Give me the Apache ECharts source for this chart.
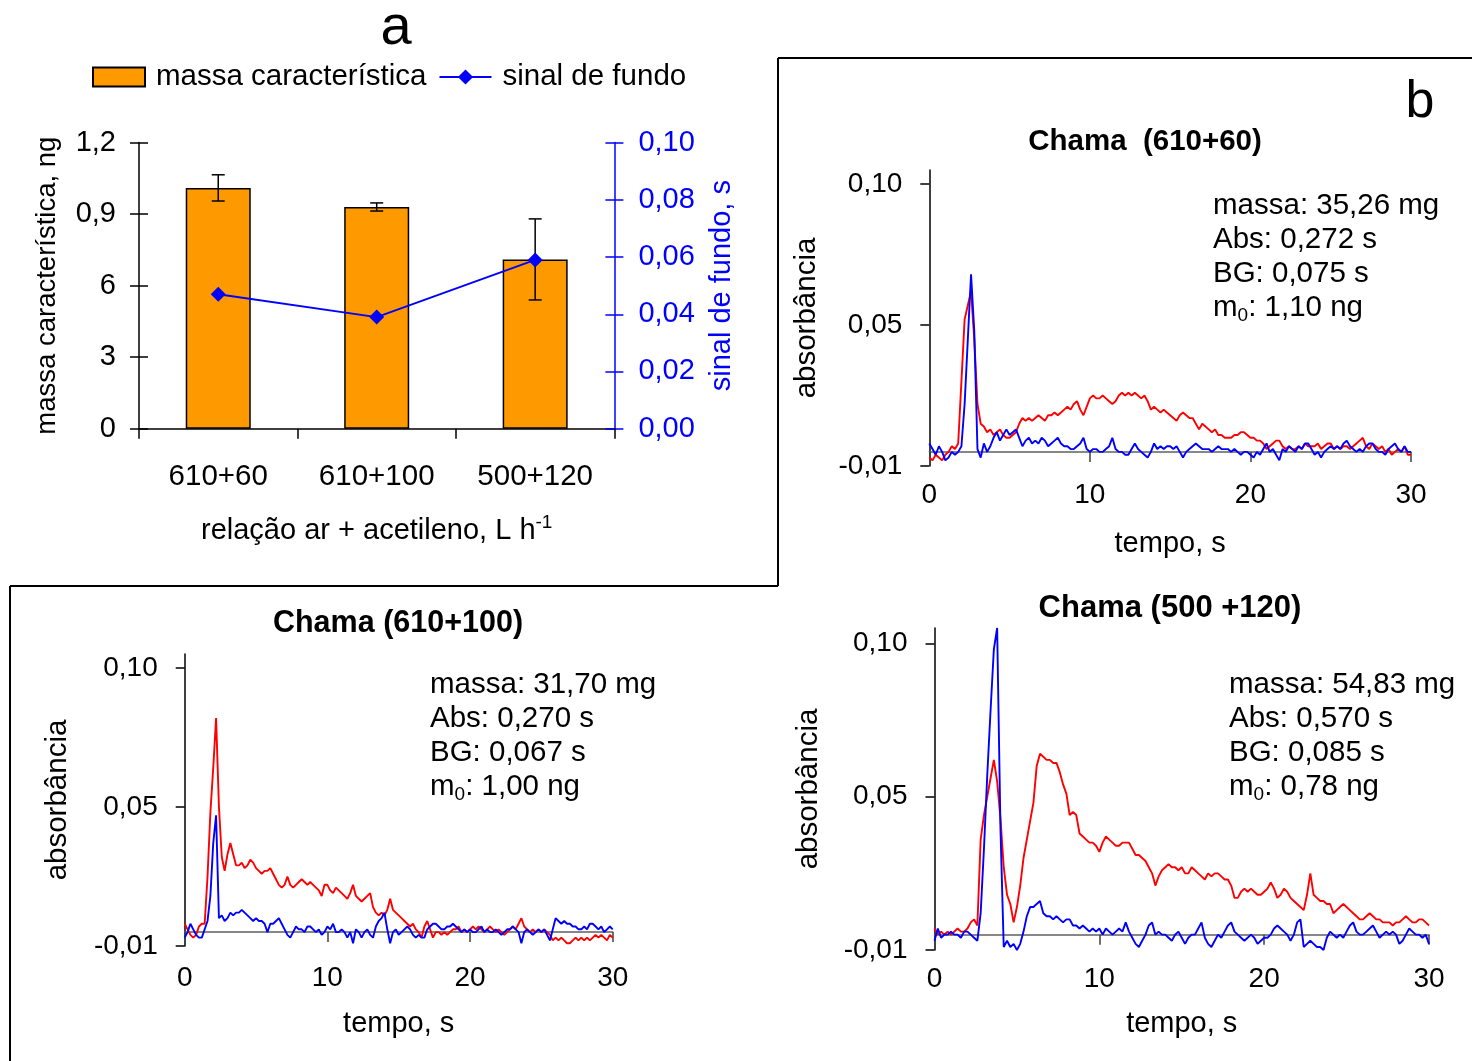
<!DOCTYPE html>
<html><head><meta charset="utf-8">
<script src="https://cdn.jsdelivr.net/npm/echarts@6/dist/echarts.min.js"></script>
<style>html,body{margin:0;padding:0;background:#fff}#c{width:1472px;height:1061px}</style>
</head><body><div id="c"></div>
<script>
const FONT = '"Liberation Sans", Arial, Helvetica, sans-serif';

// ---------- Panel a ----------
const categories = ['610+60', '610+100', '500+120'];
const massaCaracteristica = [1.01, 0.93, 0.71];      // ng
const massaErro = [0.055, 0.017, 0.17];               // ng (±)
const sinalDeFundo = [0.047, 0.039, 0.059];           // s
const leftTickLabels = ['0', '3', '6', '0,9', '1,2'];
const rightTickLabels = ['0,00', '0,02', '0,04', '0,06', '0,08', '0,10'];

// ---------- Panel b : transient signals (absorbância x 1000) ----------
const tempo = [
 0,0.2,0.4,0.6,0.8,1,1.2,1.4,1.6,1.8,
 2,2.2,2.4,2.6,2.8,3,3.2,3.4,3.6,3.8,
 4,4.2,4.4,4.6,4.8,5,5.2,5.4,5.6,5.8,
 6,6.2,6.4,6.6,6.8,7,7.2,7.4,7.6,7.8,
 8,8.2,8.4,8.6,8.8,9,9.2,9.4,9.6,9.8,
 10,10.2,10.4,10.6,10.8,11,11.2,11.4,11.6,11.8,
 12,12.2,12.4,12.6,12.8,13,13.2,13.4,13.6,13.8,
 14,14.2,14.4,14.6,14.8,15,15.2,15.4,15.6,15.8,
 16,16.2,16.4,16.6,16.8,17,17.2,17.4,17.6,17.8,
 18,18.2,18.4,18.6,18.8,19,19.2,19.4,19.6,19.8,
 20,20.2,20.4,20.6,20.8,21,21.2,21.4,21.6,21.8,
 22,22.2,22.4,22.6,22.8,23,23.2,23.4,23.6,23.8,
 24,24.2,24.4,24.6,24.8,25,25.2,25.4,25.6,25.8,
 26,26.2,26.4,26.6,26.8,27,27.2,27.4,27.6,27.8,
 28,28.2,28.4,28.6,28.8,29,29.2,29.4,29.6,29.8,
 30];

// Chama (610+60)
const abs610_60 = [
 3,2,4,3,2,4,5,7,6,8,
 30,52,57,62,45,22,15,14,12,13,
 11,12,13,11,10,10,11,12,15,17,
 16,17,16,17,18,17,16,18,18,19,
 18,19,20,21,20,22,23,20,18,21,
 24,25,24,24,25,24,23,22,23,25,
 26,25,26,25,26,25,24,25,23,20,
 21,20,19,20,19,18,17,16,18,19,
 18,17,17,15,13,15,14,13,12,13,
 11,11,10,10,10,11,11,12,12,11,
 10,10,9,9,8,6,7,8,9,9,
 7,6,7,6,6,7,6,8,7,7,
 7,8,6,7,8,8,6,7,6,7,
 7,6,7,8,9,10,7,6,8,7,
 6,7,5,6,4,5,6,5,7,4,
 4];
const bg610_60 = [
 8,6,4,7,5,2,3,5,4,5,
 7,22,45,68,48,6,3,8,5,7,
 10,12,9,11,13,11,12,13,10,7,
 9,10,8,9,8,10,9,7,8,9,
 10,8,7,7,6,6,7,8,10,6,
 5,6,6,5,5,6,7,10,6,5,
 5,4,4,6,8,6,5,4,3,5,
 8,6,7,6,7,7,6,7,5,3,
 5,6,7,8,7,6,6,6,5,6,
 7,6,6,6,5,6,5,4,5,5,
 4,3,5,4,6,8,5,6,4,2,
 6,5,7,6,5,7,6,8,8,6,
 4,5,3,5,6,7,6,7,6,8,
 9,7,6,5,6,5,7,8,8,6,
 5,5,4,6,7,8,6,5,7,5,
 5];

// Chama (610+100)
const abs610_100 = [
 8,6,4,3,4,7,8,8,25,48,
 64,82,50,32,27,33,37,33,29,29,
 30,28,29,31,30,28,27,26,27,27,
 28,26,24,22,21,22,25,22,21,22,
 23,24,23,22,23,22,21,20,18,22,
 22,20,19,21,20,19,18,17,19,22,
 18,17,16,17,18,19,14,12,11,12,
 11,13,17,13,12,11,10,9,8,7,
 8,6,5,3,7,9,6,3,5,5,
 4,5,4,5,6,6,7,5,6,5,
 6,7,6,7,6,5,6,7,6,5,
 6,5,4,5,6,7,6,8,10,7,
 6,5,6,5,6,5,6,5,4,2,
 3,2,3,2,1,1,2,3,2,3,
 2,3,2,3,4,3,4,3,2,4,
 3];
const bg610_100 = [
 3,5,8,6,4,3,3,6,9,18,
 37,47,10,11,9,10,12,11,12,12,
 13,12,11,10,9,10,9,9,8,5,
 8,8,9,10,8,6,4,3,5,7,
 6,6,5,7,7,6,5,6,4,5,
 7,6,8,5,5,6,5,3,5,1,
 6,5,3,5,6,4,3,7,9,10,
 12,6,1,5,6,4,5,6,7,6,
 4,3,4,3,3,6,7,8,8,7,
 6,6,7,7,8,7,6,5,6,5,
 6,5,5,6,7,5,6,5,5,6,
 5,4,5,6,6,7,6,5,1,5,
 6,5,4,5,6,5,6,4,2,6,
 10,9,8,9,8,8,7,7,6,6,
 7,6,8,8,7,6,7,5,6,7,
 6];

// Chama (500+120)
const abs500_120 = [
 7,5,6,5,6,5,6,7,6,6,
 7,9,10,8,36,44,50,56,62,55,
 43,27,18,15,9,14,21,30,36,42,
 48,60,64,63,62,62,61,61,58,54,
 51,44,45,44,38,37,36,35,35,34,
 32,35,37,36,35,34,34,35,35,35,
 33,31,31,30,29,27,25,21,24,26,
 27,28,27,27,26,27,25,25,27,26,
 25,24,23,25,24,25,25,24,23,23,
 21,17,17,19,20,19,20,19,18,18,
 19,20,22,20,17,18,20,19,17,16,
 15,14,13,18,25,18,17,16,16,15,
 15,12,13,14,15,14,13,12,11,10,
 10,11,12,11,10,10,9,9,9,8,
 9,9,10,11,10,9,9,10,10,9,
 8];
const bg500_120 = [
 3,7,4,5,5,6,5,5,4,6,
 6,5,4,3,12,33,57,78,98,105,
 40,1,3,1,2,0,2,6,11,14,
 14,15,16,12,11,11,10,11,10,9,
 10,10,8,8,7,8,7,6,7,6,
 7,5,7,6,5,6,7,6,9,6,
 4,2,1,3,5,8,9,5,6,5,
 5,4,3,5,6,4,2,4,5,5,
 7,9,4,2,1,3,5,4,6,8,
 9,6,5,4,3,4,5,4,2,3,
 4,4,5,7,8,7,6,5,3,5,
 9,10,1,2,3,2,1,1,0,4,
 6,5,4,5,4,6,8,9,6,5,
 5,6,7,8,6,4,5,6,5,6,
 5,2,3,5,7,6,5,5,4,5,
 2];

const absTickValues = [0, 50, 100];
const absTickLabels = ['-0,01', '0,05', '0,10'];
const tempoTicks = ['0', '10', '20', '30'];

const info610_60 = ['massa: 35,26 mg', 'Abs: 0,272 s', 'BG: 0,075 s', ['m', '0', ': 1,10 ng']];
const info610_100 = ['massa: 31,70 mg', 'Abs: 0,270 s', 'BG: 0,067 s', ['m', '0', ': 1,00 ng']];
const info500_120 = ['massa: 54,83 mg', 'Abs: 0,570 s', 'BG: 0,085 s', ['m', '0', ': 0,78 ng']];

// ---------- helpers ----------
const txt = (size, extra) => Object.assign({ fontFamily: FONT, fontSize: size, color: '#000' }, extra || {});

function lineXAxis(gridIndex, zeroIdx, nameGap, labelMargin) {
  return {
    type: 'value', gridIndex, min: 0, max: 30, interval: 10, position: 'bottom',
    axisLine: { show: true, onZero: true, onZeroAxisIndex: zeroIdx, lineStyle: { color: '#606060', width: 1.5 } },
    axisTick: { show: true, inside: false, length: 10, lineStyle: { color: '#404040', width: 1.5 } },
    axisLabel: Object.assign({ margin: labelMargin, formatter: v => tempoTicks[Math.round(v / 10)] }, txt(28)),
    splitLine: { show: false },
    name: 'tempo, s', nameLocation: 'middle', nameGap, nameTextStyle: txt(29)
  };
}
function lineYAxis(gridIndex, nameGap) {
  return {
    type: 'value', gridIndex, min: 0, max: 105, position: 'left',
    axisLine: { show: true, onZero: false, lineStyle: { color: '#000', width: 1.5 } },
    axisTick: { show: true, inside: false, length: 9, customValues: absTickValues, lineStyle: { color: '#000', width: 1.5 } },
    axisLabel: Object.assign({ margin: 27, customValues: absTickValues,
      formatter: v => { const i = absTickValues.indexOf(v); return i < 0 ? '' : absTickLabels[i]; } }, txt(28)),
    splitLine: { show: false },
    name: 'absorbância', nameLocation: 'middle', nameGap, nameTextStyle: txt(29.5)
  };
}
function offsetYAxis(gridIndex) {
  // invisible axis whose zero sits on the signal baseline (0,005) so the time axis crosses there
  return { type: 'value', gridIndex, min: -5, max: 100, position: 'left', show: false };
}
function trace(name, gridIdx, yIdx, values, color, z) {
  return {
    type: 'line', name, xAxisIndex: gridIdx, yAxisIndex: yIdx,
    data: tempo.map((t, i) => [t, values[i]]),
    showSymbol: false, symbol: 'none', sampling: null,
    lineStyle: { color, width: 1.9 }, itemStyle: { color }, z, silent: true, animation: false
  };
}
function infoText(x, yTop, lines) {
  const parts = lines.map(l => Array.isArray(l) ? `{t|${l[0]}}{s|${l[1]}}{t|${l[2]}}` : `{t|${l}}`);
  return {
    type: 'text', x, y: yTop, silent: true,
    style: {
      text: parts.join('\n'), align: 'left', verticalAlign: 'top',
      fontFamily: FONT, fontSize: 29.5, fill: '#000',
      rich: {
        t: { fontFamily: FONT, fontSize: 29.5, lineHeight: 34, fill: '#000' },
        s: { fontFamily: FONT, fontSize: 19, lineHeight: 34, fill: '#000', verticalAlign: 'bottom', padding: [12, 0, 0, 0] }
      }
    }
  };
}
const border = (x1, y1, x2, y2) => ({ type: 'line', silent: true, shape: { x1, y1, x2, y2 }, style: { stroke: '#000', lineWidth: 2 } });

const chart = echarts.init(document.getElementById('c'), null, { renderer: 'canvas' });

const option = {
  backgroundColor: '#fff',
  animation: false,
  title: [
    { text: 'a', left: 396, top: 29, textAlign: 'center', textVerticalAlign: 'middle', padding: 0, textStyle: txt(56, { fontWeight: 'normal' }) },
    { text: 'b', left: 1420, top: 103, textAlign: 'center', textVerticalAlign: 'middle', padding: 0, textStyle: txt(52, { fontWeight: 'normal' }) },
    { text: 'Chama  (610+60)', left: 1145, top: 142, textAlign: 'center', textVerticalAlign: 'middle', padding: 0, textStyle: txt(29.5, { fontWeight: 'bold' }) },
    { text: 'Chama (610+100)', left: 398, top: 624, textAlign: 'center', textVerticalAlign: 'middle', padding: 0, textStyle: txt(30.5, { fontWeight: 'bold' }) },
    { text: 'Chama (500 +120)', left: 1170, top: 608, textAlign: 'center', textVerticalAlign: 'middle', padding: 0, textStyle: txt(31, { fontWeight: 'bold' }) }
  ],
  legend: {
    left: 92, top: 62, padding: 0, itemGap: 12, itemWidth: 52, itemHeight: 19,
    textStyle: txt(29.5, { padding: [0, 0, 0, 6] }),
    data: [{ name: 'massa característica', icon: 'rect' }, { name: 'sinal de fundo' }]
  },
  grid: [
    { left: 139, top: 142.6, width: 475.4, height: 286.1, outerBoundsMode: 'none', containLabel: false },
    { left: 929.3, top: 170, width: 481.7, height: 296, outerBoundsMode: 'none', containLabel: false },
    { left: 184.7, top: 654, width: 428, height: 292, outerBoundsMode: 'none', containLabel: false },
    { left: 934.5, top: 628, width: 494.5, height: 322, outerBoundsMode: 'none', containLabel: false }
  ],
  xAxis: [
    {
      type: 'category', gridIndex: 0, data: categories, boundaryGap: true,
      axisLine: { show: true, onZero: true, lineStyle: { color: '#000', width: 1.5 } },
      axisTick: { show: true, alignWithLabel: false, interval: 0, length: 10, lineStyle: { color: '#000', width: 1.5 } },
      axisLabel: Object.assign({ margin: 33, interval: 0 }, txt(29.5)),
      name: '{a|relação ar + acetileno, L h}{s|-1}', nameLocation: 'middle', nameGap: 85,
      nameTextStyle: Object.assign(txt(29), { rich: {
        a: { fontFamily: FONT, fontSize: 29, color: '#000', lineHeight: 34 },
        s: { fontFamily: FONT, fontSize: 19, color: '#000', lineHeight: 34, verticalAlign: 'top' } } })
    },
    lineXAxis(1, 5, 63, 15),
    lineXAxis(2, 7, 63, 18),
    lineXAxis(3, 9, 59, 15)
  ],
  yAxis: [
    { // 0: massa característica
      type: 'value', gridIndex: 0, min: 0, max: 1.2, interval: 0.3, position: 'left',
      axisLine: { show: true, onZero: false, lineStyle: { color: '#000', width: 1.5 } },
      axisTick: { show: true, inside: false, length: 9, lineStyle: { color: '#000', width: 1.5 } },
      axisLabel: Object.assign({ margin: 23, formatter: v => leftTickLabels[Math.round(v / 0.3)] }, txt(29)),
      splitLine: { show: false },
      name: 'massa característica, ng', nameLocation: 'middle', nameGap: 78, nameTextStyle: txt(27.5)
    },
    { // 1: sinal de fundo
      type: 'value', gridIndex: 0, min: 0, max: 0.1, interval: 0.02, position: 'right',
      axisLine: { show: true, onZero: false, lineStyle: { color: '#0000FF', width: 1.5 } },
      axisTick: { show: true, inside: false, length: 9, lineStyle: { color: '#0000FF', width: 1.5 } },
      axisLabel: Object.assign({ margin: 24, formatter: v => rightTickLabels[Math.round(v / 0.02)] }, txt(29, { color: '#0000FF' })),
      splitLine: { show: false },
      name: 'sinal de fundo, s', nameLocation: 'middle', nameGap: 93, nameTextStyle: txt(29, { color: '#0000FF' })
    },
    { // 2: inner half of the crossing ticks (left)
      type: 'value', gridIndex: 0, min: 0, max: 1.2, interval: 0.3, position: 'left',
      axisLine: { show: false, onZero: false }, axisLabel: { show: false }, splitLine: { show: false },
      axisTick: { show: true, inside: true, length: 9, lineStyle: { color: '#000', width: 1.5 } }
    },
    { // 3: inner half of the crossing ticks (right)
      type: 'value', gridIndex: 0, min: 0, max: 0.1, interval: 0.02, position: 'right',
      axisLine: { show: false, onZero: false }, axisLabel: { show: false }, splitLine: { show: false },
      axisTick: { show: true, inside: true, length: 9, lineStyle: { color: '#0000FF', width: 1.5 } }
    },
    lineYAxis(1, 107), offsetYAxis(1),
    lineYAxis(2, 112), offsetYAxis(2),
    lineYAxis(3, 111), offsetYAxis(3)
  ],
  series: [
    {
      type: 'bar', name: 'massa característica', xAxisIndex: 0, yAxisIndex: 0,
      data: massaCaracteristica, barWidth: 65,
      itemStyle: { color: '#FF9900', borderColor: '#000', borderWidth: 1.5 }, z: 2
    },
    {
      type: 'custom', name: 'desvio', xAxisIndex: 0, yAxisIndex: 0, z: 3, silent: true,
      data: massaCaracteristica.map((m, i) => [i, m - massaErro[i], m + massaErro[i]]),
      renderItem: (params, api) => {
        const lo = api.coord([api.value(0), api.value(1)]);
        const hi = api.coord([api.value(0), api.value(2)]);
        const w = 6.5, st = { stroke: '#000', lineWidth: 1.5 };
        return { type: 'group', children: [
          { type: 'line', shape: { x1: lo[0], y1: lo[1], x2: hi[0], y2: hi[1] }, style: st },
          { type: 'line', shape: { x1: lo[0] - w, y1: lo[1], x2: lo[0] + w, y2: lo[1] }, style: st },
          { type: 'line', shape: { x1: hi[0] - w, y1: hi[1], x2: hi[0] + w, y2: hi[1] }, style: st }
        ] };
      }
    },
    {
      type: 'line', name: 'sinal de fundo', xAxisIndex: 0, yAxisIndex: 1,
      data: sinalDeFundo, symbol: 'diamond', symbolSize: 15, showSymbol: true,
      lineStyle: { color: '#0000FF', width: 2 }, itemStyle: { color: '#0000FF' }, z: 4
    },
    trace('Abs (610+60)', 1, 4, abs610_60, '#FF0000', 5),
    trace('BG (610+60)', 1, 4, bg610_60, '#0000FF', 6),
    trace('Abs (610+100)', 2, 6, abs610_100, '#FF0000', 5),
    trace('BG (610+100)', 2, 6, bg610_100, '#0000FF', 6),
    trace('Abs (500+120)', 3, 8, abs500_120, '#FF0000', 5),
    trace('BG (500+120)', 3, 8, bg500_120, '#0000FF', 6)
  ],
  graphic: [
    border(778, 58, 1472, 58),
    border(778, 58, 778, 586),
    border(10, 586, 778, 586),
    border(10, 586, 10, 1061),
    infoText(1213, 189, info610_60),
    infoText(430, 668, info610_100),
    infoText(1229, 668, info500_120)
  ]
};
chart.setOption(option);
</script>
</body></html>
